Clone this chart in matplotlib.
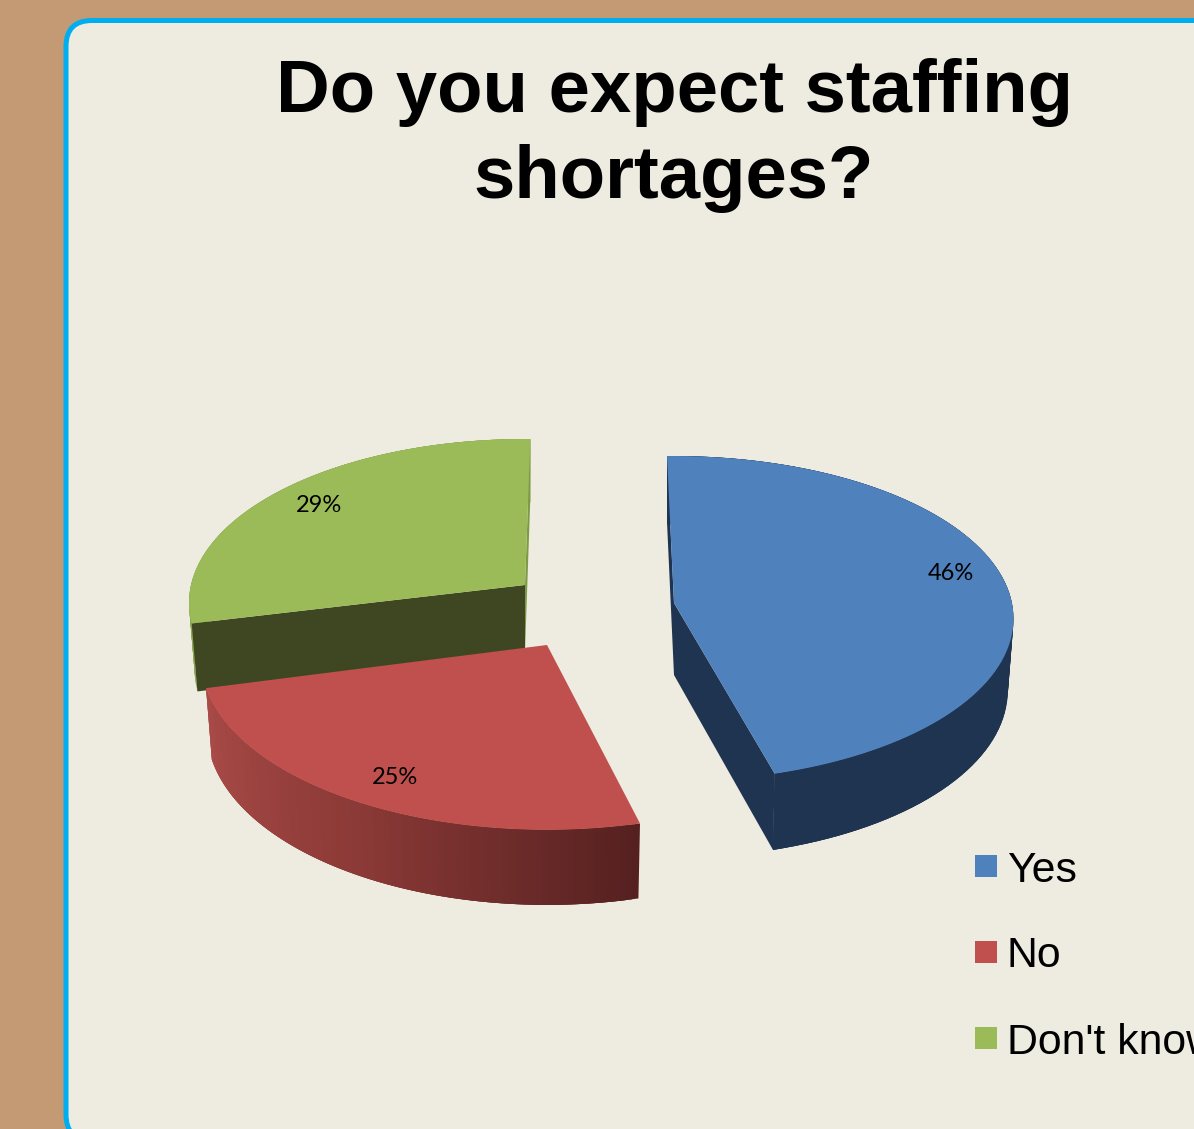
import numpy as np
from matplotlib import pyplot as plt
from matplotlib.colors import LinearSegmentedColormap
from matplotlib.patches import FancyBboxPatch, Polygon, Rectangle

categories = ["Yes", "No", "Don't know"]
values = [46, 25, 29]
labels = ["46%", "25%", "29%"]
title_lines = ["Do you expect staffing", "shortages?"]

top_colors = ["#4F81BD", "#C0504D", "#9BBB59"]
# faces at the start and at the end of each slice
start_colors = ["#1F3450", "#552120", "#3F4722"]
end_colors = ["#1F3450", "#552120", "#7F9A47"]
side_colors = [["#22395A", "#1F3450", "#1F3450"],
               ["#AA4B48", "#8C3A37", "#552120"],
               ["#8AA84F", "#8AA84F", "#8AA84F"]]

# exploded slices sit a bit differently on the picture
centers = [(674, 603), (547, 645), (525, 585)]
depths = [72, 70.5, 67]
radii_x = [338, 345, 334]
radii_y = [161, 170, 161.8]
perspective = [0.0954, 0.08, 0.1085]
twists = [-0.3, 1.0, 2.0]
cuts_show = [True, False, True]
label_pos = [(951, 573), (395, 778), (319, 505)]
draw_order = [2, 0, 1]

START = -91


def project(i, t):
    # circle seen in perspective
    t = np.radians(t)
    d = 1 - perspective[i] * np.sin(t)
    return centers[i][0] + radii_x[i] * np.cos(t) / d, centers[i][1] + radii_y[i] * np.sin(t) / d


def lower(center, depth, x, y):
    return center[0] + (x - center[0]) * 0.983, y + depth + 0.025 * (y - center[1])


fig = plt.figure(figsize=(11.94, 11.29), dpi=100, facecolor="#C49A74")
ax = fig.add_axes([0, 0, 1, 1])
ax.set_xlim(0, 1194)
ax.set_ylim(1129, 0)
ax.axis("off")

ax.add_patch(FancyBboxPatch((66, 20.5), 1300, 1120, boxstyle="round,pad=0,rounding_size=26",
                            fc="#EEEBE0", ec="#00AEEF", lw=3.6))

angles = START + np.concatenate([[0], np.cumsum(values)]) * 3.6

for i in draw_order:
    c, depth = centers[i], depths[i]
    ts = np.linspace(angles[i] + twists[i], angles[i + 1] + twists[i], 90)
    xs, ys = project(i, ts)
    bx, by = lower(c, depth, xs, ys)

    cmap = LinearSegmentedColormap.from_list("side", side_colors[i])
    # each band overlaps the next one so no seams show
    for j in range(len(ts) - 1):
        k = min(j + 3, len(ts) - 1)
        quad = [(xs[j], ys[j]), (xs[k], ys[k]), (bx[k], by[k]), (bx[j], by[j])]
        shade = (ts[j] - ts[0]) / (ts[-1] - ts[0])
        if i == 1:
            shade = 1 - shade
        ax.add_patch(Polygon(quad, fc=cmap(shade), ec="none"))

    if cuts_show[i]:
        apex_bottom = (c[0], c[1] + depth)
        ax.add_patch(Polygon([(xs[0], ys[0]), c, apex_bottom, (bx[0], by[0])],
                             fc=start_colors[i], ec="none"))
        ax.add_patch(Polygon([(xs[-1], ys[-1]), c, apex_bottom, (bx[-1], by[-1])],
                             fc=end_colors[i], ec="none"))

    ax.add_patch(Polygon(np.vstack([np.column_stack([xs, ys]), [c]]), fc=top_colors[i], ec="none"))

for pos, txt in zip(label_pos, labels):
    ax.text(pos[0], pos[1], txt, ha="center", va="center", fontsize=17, family="Lato", color="black")

for line, base in zip(title_lines, [112, 198]):
    ax.text(674, base, line, ha="center", va="baseline", fontsize=53.6, fontweight="bold",
            family="Liberation Sans", color="black")

legend_tops = [855, 941, 1027]
legend_base = [882, 967, 1054]
for name, col, top, base in zip(categories, top_colors, legend_tops, legend_base):
    ax.add_patch(Rectangle((975, top), 22, 22, fc=col, ec="none"))
    ax.text(1007, base, name, ha="left", va="baseline", fontsize=30.8, family="Liberation Sans",
            color="black")

fig.savefig("out.png", dpi=100, facecolor=fig.get_facecolor())
